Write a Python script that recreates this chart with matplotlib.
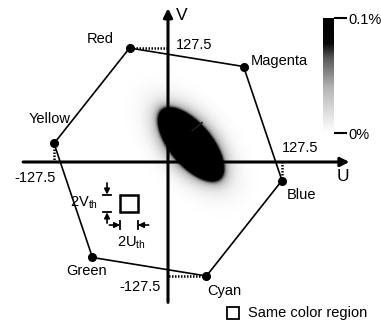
import matplotlib
matplotlib.use("Agg")
import matplotlib.pyplot as plt
import numpy as np
from matplotlib.colors import LinearSegmentedColormap

plt.rcParams['font.family'] = ['Liberation Sans', 'DejaVu Sans']
plt.rcParams['mathtext.fontset'] = 'custom'
plt.rcParams['mathtext.rm'] = 'Liberation Sans'
plt.rcParams['mathtext.it'] = 'Liberation Sans'

# primary / secondary colours on the UV plane (8-bit, BT.601)
color_names = ['Red', 'Magenta', 'Blue', 'Cyan', 'Green', 'Yellow']
hex_u = [-43.0, 84.5, 127.5, 43.0, -84.5, -127.5]
hex_v = [127.5, 106.8, -20.7, -127.5, -106.8, 20.7]

# pixel distribution (percent of pixels per UV bin): dense core + faint halo
blob_center = (25.0, 19.0)
blob_angle = -50.0             # degrees
core_sigma = (14.5, 6.5)       # along / across the main axis
core_peak = 20.0
halo_sigma = (28.0, 16.0)
halo_peak = 0.15
spike_u = [27.0, 38.0]
spike_v = [35.0, 44.0]

# same-colour region box
box_u, box_v, box_size = -43.6, -46.4, 20.0

fig = plt.figure(figsize=(3.81, 3.24), dpi=100)
ax = fig.add_axes([0, 0, 1, 1])
k = 0.894  # px per unit
ax.set_xlim(-168 / k, (381 - 168) / k)
ax.set_ylim((162 - 324) / k, 162 / k)
ax.set_axis_off()

cmap = LinearSegmentedColormap.from_list(
    'dens', [(0.0, (1, 1, 1)), (0.1, (0.93,) * 3), (0.4, (0.7,) * 3),
             (0.65, (0.35,) * 3), (0.78, (0.03,) * 3), (1.0, (0, 0, 0))])


def gauss(peak, sigma):
    a = (du * np.cos(th) + dv * np.sin(th)) / sigma[0]
    b = (-du * np.sin(th) + dv * np.cos(th)) / sigma[1]
    return peak * np.exp(-0.5 * (a ** 2 + b ** 2))


# density image
uu, vv = np.meshgrid(np.linspace(-130, 170, 600), np.linspace(-130, 170, 600))
th = np.deg2rad(blob_angle)
du, dv = uu - blob_center[0], vv - blob_center[1]
dens = gauss(core_peak, core_sigma) + gauss(halo_peak, halo_sigma)
im = ax.imshow(dens, extent=(-130, 170, -130, 170), origin='lower', cmap=cmap,
               vmin=0, vmax=0.1, interpolation='bilinear', zorder=1)
ax.plot(spike_u, spike_v, color='0.1', lw=1.2, zorder=2)

# axes with arrows
ax.annotate('', xy=(203, 0), xytext=(-162, 0),
            arrowprops=dict(arrowstyle='-|>', lw=2.2, color='black',
                            mutation_scale=13, shrinkA=0, shrinkB=0), zorder=3)
ax.annotate('', xy=(0, 172), xytext=(0, -157),
            arrowprops=dict(arrowstyle='-|>', lw=2.2, color='black',
                            mutation_scale=13, shrinkA=0, shrinkB=0), zorder=3)
ax.text(15.7, 164, 'V', fontsize=12.5, ha='center', va='center')
ax.text(196, -15.7, 'U', fontsize=12.5, ha='center', va='center')

# hexagon
ax.plot(hex_u + hex_u[:1], hex_v + hex_v[:1], color='black', lw=1.2, zorder=4)
ax.plot(hex_u, hex_v, 'o', color='black', ms=5.5, zorder=5)

# projections to the axes
dot = dict(color='black', lw=1.8, ls=(0, (0.6, 0.6)), zorder=4)
ax.plot([hex_u[0], 0], [hex_v[0], hex_v[0]], **dot)
ax.plot([hex_u[3], 0], [hex_v[3], hex_v[3]], **dot)
ax.plot([hex_u[2], hex_u[2]], [hex_v[2], 0], **dot)
ax.plot([hex_u[5], hex_u[5]], [hex_v[5], 0], **dot)

fs = 10.5
label_pos = {'Red': (-76, 137.6), 'Magenta': (125, 113), 'Blue': (148.8, -36.9),
             'Cyan': (62.6, -144.3), 'Green': (-90.6, -121.9), 'Yellow': (-132, 48)}
for name in color_names:
    ax.text(*label_pos[name], name, fontsize=fs, ha='center', va='center')

ax.text(29, 131, '127.5', fontsize=fs, ha='center', va='center')
ax.text(147.7, 15.7, '127.5', fontsize=fs, ha='center', va='center')
ax.text(-148.8, -17.9, '-127.5', fontsize=fs, ha='center', va='center')
ax.text(-31.3, -139.8, '-127.5', fontsize=fs, ha='center', va='center')

# same colour region box and its dimensions
h = box_size / 2
ax.add_patch(plt.Rectangle((box_u - h, box_v - h), box_size, box_size,
                           fill=False, ec='black', lw=1.8, zorder=4))
arr = dict(arrowstyle='-|>', lw=1.2, color='black', mutation_scale=8,
           shrinkA=0, shrinkB=0)
mu, mv = -68.2, -70.5
ax.annotate('', xy=(mu, box_v + h), xytext=(mu, box_v + h + 13), arrowprops=arr)
ax.annotate('', xy=(mu, box_v - h), xytext=(mu, box_v - h - 12), arrowprops=arr)
ax.plot([mu - 4.5, mu + 4.5], [box_v + h] * 2, color='black', lw=1.3)
ax.plot([mu - 4.5, mu + 4.5], [box_v - h] * 2, color='black', lw=1.3)
ax.annotate('', xy=(box_u - h, mv), xytext=(box_u - h - 12, mv), arrowprops=arr)
ax.annotate('', xy=(box_u + h, mv), xytext=(box_u + h + 12, mv), arrowprops=arr)
ax.plot([box_u - h] * 2, [mv - 4.5, mv + 4.5], color='black', lw=1.3)
ax.plot([box_u + h] * 2, [mv - 4.5, mv + 4.5], color='black', lw=1.3)
ax.text(-94, -45.9, r'2V$_{\rm th}$', fontsize=fs, ha='center', va='center')
ax.text(-41.4, -90.6, r'2U$_{\rm th}$', fontsize=fs, ha='center', va='center')

# legend entry
ax.plot([72.7], [-169], 's', ms=8.5, mfc='white', mec='black', mew=1.3)
ax.text(89.5, -169, 'Same color region', fontsize=fs, ha='left', va='center')

# colour bar
cax = fig.add_axes([323 / 381, (324 - 133) / 324, 11 / 381, 115 / 324])
cb = fig.colorbar(im, cax=cax, ticks=[0, 0.1])
cb.outline.set_visible(False)
cb.ax.set_yticklabels(['0%', '0.1%'], fontsize=fs)
cb.ax.tick_params(length=9, width=1.5, pad=1)

fig.savefig('out.png', dpi=100)
